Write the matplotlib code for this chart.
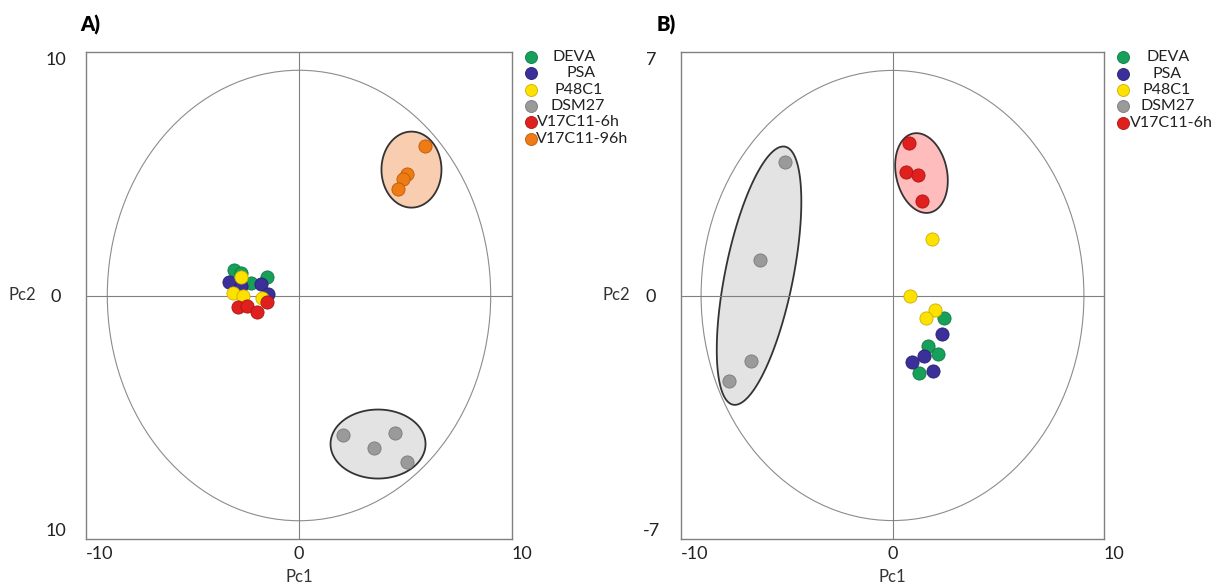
import numpy as np
import matplotlib
matplotlib.use("Agg")
import matplotlib.pyplot as plt
from matplotlib.patches import Ellipse

plt.rcParams['font.family'] = ['Lato', 'DejaVu Sans']

# ---------------- data: panel A ----------------
a_groups = ['DEVA', 'PSA', 'P48C1', 'DSM27', 'V17C11-6h', 'V17C11-96h']
a_deva_x = [-3.04, -2.71, -2.24, -1.50]
a_deva_y = [1.03, 0.94, 0.53, 0.74]
a_psa_x = [-3.27, -2.71, -1.78, -1.45]
a_psa_y = [0.57, 0.37, 0.49, 0.08]
a_p48_x = [-2.71, -3.08, -2.62, -1.73]
a_p48_y = [0.74, 0.12, 0.00, -0.12]
a_dsm_x = [2.06, 3.50, 4.49, 5.09]
a_dsm_y = [-5.71, -6.28, -5.63, -6.82]
a_v6_x = [-2.85, -2.43, -1.96, -1.50]
a_v6_y = [-0.49, -0.45, -0.66, -0.25]
a_v96_x = [5.93, 5.09, 4.86, 4.63]
a_v96_y = [6.16, 5.01, 4.80, 4.39]

# ---------------- data: panel B ----------------
b_groups = ['DEVA', 'PSA', 'P48C1', 'DSM27', 'V17C11-6h']
b_deva_x = [2.43, 1.68, 2.15, 1.25]
b_deva_y = [-0.66, -1.44, -1.67, -2.24]
b_psa_x = [2.34, 1.49, 0.92, 1.91]
b_psa_y = [-1.12, -1.75, -1.90, -2.18]
b_p48_x = [1.87, 0.83, 2.01, 1.58]
b_p48_y = [1.61, 0.00, -0.43, -0.66]
b_dsm_x = [-5.08, -6.26, -6.69, -7.73]
b_dsm_y = [3.85, 1.01, -1.87, -2.47]
b_v6_x = [0.78, 0.64, 1.21, 1.39]
b_v6_y = [4.37, 3.56, 3.45, 2.73]

a_xticks = [-10, 0, 10]
a_yticks = [-10, 0, 10]
a_yticklabels = ['10', '0', '10']
b_xticks = [-10, 0, 10]
b_yticks = [-7, 0, 7]
b_yticklabels = ['-7', '0', '7']

# Hotelling ellipses (centre x, centre y, semi-axis x, semi-axis y) in data units
a_t2 = (0.0, 0.0, 9.0, 9.25)
b_t2 = (0.0, 0.0, 9.05, 6.47)

# ---------------- styles ----------------
W, H = 1213, 585
colors = {'DEVA': '#17a05a', 'PSA': '#3b2f9a', 'P48C1': '#ffe100',
          'DSM27': '#9a9a9a', 'V17C11-6h': '#e0201e', 'V17C11-96h': '#ef7b14'}
edges = {'DEVA': '#0f7a44', 'PSA': '#2a2170', 'P48C1': '#c9b000',
         'DSM27': '#7a7a7a', 'V17C11-6h': '#a81614', 'V17C11-96h': '#b85c0c'}
LINE = '#808080'

fig = plt.figure(figsize=(W / 100, H / 100), dpi=100)
fig.patch.set_facecolor('white')


def make_axes(left, right, top, bottom):
    return fig.add_axes([left / W, 1 - bottom / H, (right - left) / W, (bottom - top) / H])


def style_axes(ax, xlim, ylim, xticks, yticks, yticklabels, ylab_x):
    ax.set_xlim(*xlim)
    ax.set_ylim(*ylim)
    for s in ax.spines.values():
        s.set_color(LINE)
        s.set_linewidth(1.0)
    ax.axhline(0, color=LINE, lw=0.8, zorder=2)
    ax.axvline(0, color=LINE, lw=0.8, zorder=2)
    ax.set_xticks(xticks)
    ax.set_xticklabels([str(t) for t in xticks], fontsize=13, color='#222222')
    ax.set_yticks(yticks)
    ax.set_yticklabels(yticklabels, fontsize=13, color='#222222')
    ax.tick_params(axis='both', length=0)
    ax.tick_params(axis='x', pad=5)
    ax.tick_params(axis='y', pad=21.5)
    xl = ax.get_xticklabels()
    xl[0].set_ha('left')
    xl[-1].set_ha('left')
    yl = ax.get_yticklabels()
    for t in yl:
        t.set_ha('center')
    yl[0].set_va('bottom')
    yl[-1].set_va('top')
    ax.set_xlabel('Pc1', fontsize=12, color='#333333')
    ax.xaxis.set_label_coords(0.5, -0.078)
    ax.xaxis.label.set_va('center')
    ax.set_ylabel('Pc2', fontsize=12, color='#333333', rotation=0)
    ax.yaxis.set_label_coords(ylab_x, 0.5)
    ax.yaxis.label.set_va('center')
    ax.yaxis.label.set_ha('center')


def tilted_ellipse(ax, cx, cy, a_px, b_px, tilt_deg, face):
    # a_px: semi-axis along the tilted "vertical" direction, b_px: across it (screen pixels)
    xr = ax.get_xlim(); yr = ax.get_ylim()
    sx = ax.bbox.width / (xr[1] - xr[0])
    sy = ax.bbox.height / (yr[1] - yr[0])
    th = np.radians(tilt_deg)
    u = np.array([np.sin(th), np.cos(th)])
    v = np.array([np.cos(th), -np.sin(th)])
    t = np.linspace(0, 2 * np.pi, 300)
    off = a_px * np.cos(t)[:, None] * u + b_px * np.sin(t)[:, None] * v
    ax.fill(cx + off[:, 0] / sx, cy + off[:, 1] / sy, facecolor=face,
            edgecolor='#333333', lw=1.3, zorder=1.5)


def pts(ax, xs, ys, g):
    ax.scatter(xs, ys, s=90, c=colors[g], edgecolors=edges[g], linewidths=0.6, zorder=4)


# ---------------- Panel A ----------------
axA = make_axes(86, 512, 52, 539)
style_axes(axA, (-10, 10), (-10, 10), a_xticks, a_yticks, a_yticklabels, -0.150)
axA.add_patch(Ellipse((a_t2[0], a_t2[1]), 2 * a_t2[2], 2 * a_t2[3], fill=False,
                      edgecolor='#8c8c8c', lw=0.8, zorder=1))
tilted_ellipse(axA, 5.28, 5.17, 38, 30, 0, '#f8cdb0')
tilted_ellipse(axA, 3.71, -6.10, 47.5, 34.5, 90, '#e3e3e3')
pts(axA, a_deva_x, a_deva_y, 'DEVA')
pts(axA, a_psa_x, a_psa_y, 'PSA')
pts(axA, a_p48_x, a_p48_y, 'P48C1')
pts(axA, a_dsm_x, a_dsm_y, 'DSM27')
pts(axA, a_v6_x, a_v6_y, 'V17C11-6h')
pts(axA, a_v96_x, a_v96_y, 'V17C11-96h')

# ---------------- Panel B ----------------
axB = make_axes(681, 1104, 52, 539)
style_axes(axB, (-10, 10), (-7, 7), b_xticks, b_yticks, b_yticklabels, -0.154)
axB.add_patch(Ellipse((b_t2[0], b_t2[1]), 2 * b_t2[2], 2 * b_t2[3], fill=False,
                      edgecolor='#8c8c8c', lw=0.8, zorder=1))
tilted_ellipse(axB, -6.31, 0.57, 131.6, 34, 11.4, '#e3e3e3')
tilted_ellipse(axB, 1.37, 3.52, 40.4, 25.5, -12, '#ffbcbc')
pts(axB, b_deva_x, b_deva_y, 'DEVA')
pts(axB, b_psa_x, b_psa_y, 'PSA')
pts(axB, b_p48_x, b_p48_y, 'P48C1')
pts(axB, b_dsm_x, b_dsm_y, 'DSM27')
pts(axB, b_v6_x, b_v6_y, 'V17C11-6h')

# ---------------- panel letters ----------------
fig.text(80 / W, 1 - 25 / H, 'A)', fontsize=14.5, fontweight='heavy', va='center', ha='left')
fig.text(657 / W, 1 - 25 / H, 'B)', fontsize=14.5, fontweight='heavy', va='center', ha='left')

# ---------------- legends (manual, pixel layout) ----------------
ov = fig.add_axes([0, 0, 1, 1], zorder=10)
ov.set_xlim(0, W)
ov.set_ylim(H, 0)
ov.axis('off')
ov.patch.set_alpha(0)

legA_rows = [57, 73, 90, 106, 122, 139]
legA_text_x = [552, 566, 555, 550, 537, 536]
for g, y, tx in zip(a_groups, legA_rows, legA_text_x):
    ov.scatter([531], [y], s=75, c=colors[g], edgecolors=edges[g], linewidths=0.6)
    ov.text(tx, y, g, fontsize=11.5, va='center', ha='left', color='#222222')

legB_rows = [57, 74, 90, 106, 123]
legB_text_x = [1146, 1152, 1142, 1140, 1130]
for g, y, tx in zip(b_groups, legB_rows, legB_text_x):
    ov.scatter([1123], [y], s=75, c=colors[g], edgecolors=edges[g], linewidths=0.6)
    ov.text(tx, y, g, fontsize=11.5, va='center', ha='left', color='#222222')

fig.savefig('out.png', dpi=100, facecolor='white')
